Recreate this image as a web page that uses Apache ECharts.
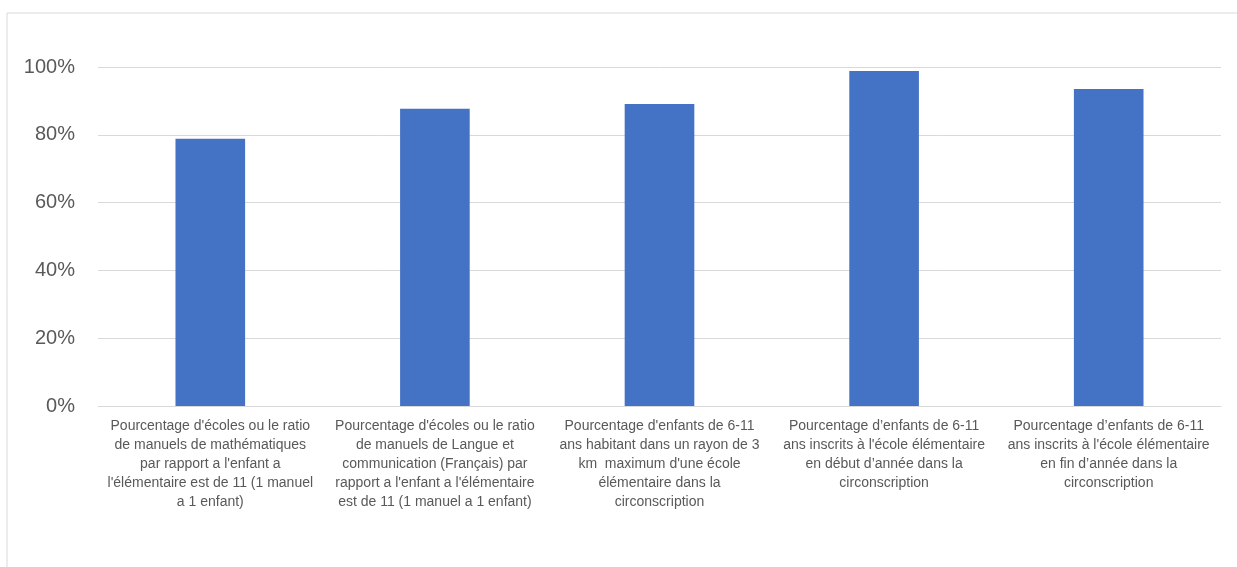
<!DOCTYPE html>
<html>
<head>
<meta charset="utf-8">
<script src="https://cdn.jsdelivr.net/npm/echarts@6/dist/echarts.min.js"></script>
<style>
html,body{margin:0;padding:0;background:#fff;}
#c{width:1237px;height:567px;}
</style>
</head>
<body>
<div id="c"></div>
<script>
const categories = [
  "Pourcentage d'écoles ou le ratio\nde manuels de mathématiques\npar rapport a l'enfant a\nl'élémentaire est de 11 (1 manuel\na 1 enfant)",
  "Pourcentage d'écoles ou le ratio\nde manuels de Langue et\ncommunication (Français) par\nrapport a l'enfant a l'élémentaire\nest de 11 (1 manuel a 1 enfant)",
  "Pourcentage d'enfants de 6-11\nans habitant dans un rayon de 3\nkm  maximum d'une école\nélémentaire dans la\ncirconscription",
  "Pourcentage d\u2019enfants de 6-11\nans inscrits à l'école élémentaire\nen début d\u2019année dans la\ncirconscription",
  "Pourcentage d\u2019enfants de 6-11\nans inscrits à l'école élémentaire\nen fin d\u2019année dans la\ncirconscription"
];
const values = [0.788, 0.877, 0.891, 0.988, 0.935];
const yTicks = { min: 0, max: 1, interval: 0.2 };

const chart = echarts.init(document.getElementById('c'), null, {renderer: 'canvas'});
chart.setOption({
  animation: false,
  backgroundColor: '#fff',
  graphic: [{
    type: 'rect',
    shape: {x: 7, y: 13, width: 1300, height: 600},
    style: {fill: 'none', stroke: '#d9d9d9', lineWidth: 1},
    silent: true
  }],
  grid: {left: 98, right: 16, top: 67, bottom: 161, containLabel: false},
  xAxis: {
    type: 'category',
    data: categories,
    axisLine: {show: true, lineStyle: {color: '#d9d9d9', width: 1}},
    axisTick: {show: false},
    axisLabel: {
      interval: 0,
      color: '#595959',
      fontFamily: 'Liberation Sans Narrow, Liberation Sans, Arial, sans-serif',
      fontSize: 14,
      lineHeight: 19,
      margin: 11,
      align: 'center'
    }
  },
  yAxis: {
    type: 'value',
    min: yTicks.min,
    max: yTicks.max,
    interval: yTicks.interval,
    axisLine: {show: false},
    axisTick: {show: false},
    splitLine: {lineStyle: {color: '#d9d9d9', width: 1}},
    axisLabel: {
      color: '#595959',
      fontFamily: 'Liberation Sans, Arial, sans-serif',
      fontSize: 20,
      margin: 23,
      formatter: v => Math.round(v * 100) + '%'
    }
  },
  series: [{
    type: 'bar',
    data: values,
    barWidth: '31%',
    itemStyle: {color: '#4472C4'}
  }]
});
</script>
</body>
</html>
